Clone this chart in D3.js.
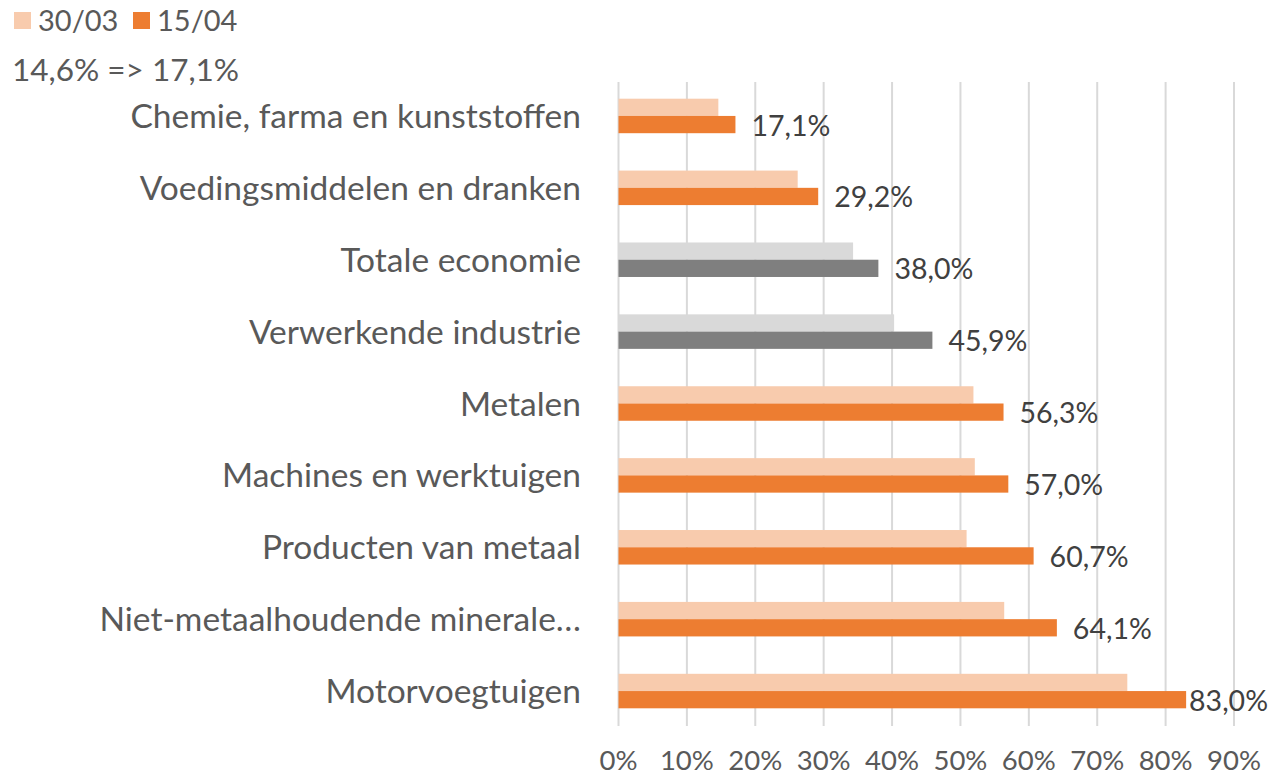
<!DOCTYPE html>
<html>
<head>
<meta charset="utf-8">
<script src="https://cdn.jsdelivr.net/npm/d3@7"></script>
<style>
  body { margin: 0; background: #fff; }
  text { font-family: Lato, "Open Sans", sans-serif; }
</style>
</head>
<body>
<svg id="chart" width="1270" height="778"></svg>
<script>
var categories = [
    "Chemie, farma en kunststoffen",
    "Voedingsmiddelen en dranken",
    "Totale economie",
    "Verwerkende industrie",
    "Metalen",
    "Machines en werktuigen",
    "Producten van metaal",
    "Niet-metaalhoudende minerale\u2026",
    "Motorvoegtuigen"
];
var series1 = [14.6, 26.2, 34.3, 40.3, 51.9, 52.1, 50.9, 56.4, 74.4];   // 30/03
var series2 = [17.1, 29.2, 38.0, 45.9, 56.3, 57.0, 60.7, 64.1, 83.0];   // 15/04
var greyCats = ["Totale economie", "Verwerkende industrie"];
var ticks = [0, 10, 20, 30, 40, 50, 60, 70, 80, 90];
var legendNames = ["30/03", "15/04"];
var subtitle = "14,6% => 17,1%";

var lightOrange = "#F8CBAD", darkOrange = "#ED7D31",
    lightGrey = "#D9D9D9", darkGrey = "#7F7F7F",
    textColor = "#595959", labelColor = "#404040";

var svg = d3.select("#chart");

var x = d3.scaleLinear().domain([0, 90]).range([618.5, 1234]);
var y = d3.scaleBand().domain(categories).range([80, 727]).paddingInner(0.52).paddingOuter(0.26);
var inner = d3.scaleBand().domain([0, 1]).range([0, y.bandwidth()]);

// gridlines
svg.append("g").selectAll("line").data(ticks).enter().append("line")
    .attr("x1", function(d) { return x(d); })
    .attr("x2", function(d) { return x(d); })
    .attr("y1", 82).attr("y2", 726)
    .attr("stroke", "#D9D9D9").attr("stroke-width", 2);

// tick labels
svg.append("g").selectAll("text").data(ticks).enter().append("text")
    .attr("x", function(d) { return x(d); })
    .attr("y", 770)
    .attr("text-anchor", "middle")
    .attr("font-size", 27.5)
    .attr("fill", textColor)
    .text(function(d) { return d + "%"; });

var rows = categories.map(function(c, i) {
    return {cat: c, v1: series1[i], v2: series2[i], grey: greyCats.indexOf(c) >= 0};
});

var g = svg.append("g").selectAll("g").data(rows).enter().append("g")
    .attr("transform", function(d) { return "translate(0," + y(d.cat) + ")"; });

g.append("rect")
    .attr("x", x(0)).attr("y", inner(0))
    .attr("width", function(d) { return x(d.v1) - x(0); })
    .attr("height", inner.bandwidth())
    .attr("fill", function(d) { return d.grey ? lightGrey : lightOrange; });

g.append("rect")
    .attr("x", x(0)).attr("y", inner(1))
    .attr("width", function(d) { return x(d.v2) - x(0); })
    .attr("height", inner.bandwidth())
    .attr("fill", function(d) { return d.grey ? darkGrey : darkOrange; });

// category labels
g.append("text")
    .attr("x", 581)
    .attr("y", y.bandwidth() / 2 + 12)
    .attr("text-anchor", "end")
    .attr("font-size", 33.5)
    .attr("fill", textColor)
    .text(function(d) { return d.cat; });

// data labels
g.append("text")
    .attr("y", inner(1) + inner.bandwidth() / 2 + 11)
    .attr("font-size", 28.5)
    .attr("fill", labelColor)
    .text(function(d) { return d.v2.toFixed(1).replace(".", ",") + "%"; })
    .attr("x", function(d) {
        var w = this.getComputedTextLength();
        return Math.min(x(d.v2) + 16, 1268 - w);
    });

// legend
var legend = svg.append("g");
var lx = [14, 133];
legendNames.forEach(function(n, i) {
    legend.append("rect").attr("x", lx[i]).attr("y", 12).attr("width", 17).attr("height", 17)
        .attr("fill", i === 0 ? lightOrange : darkOrange);
    legend.append("text").attr("x", lx[i] + 24).attr("y", 31)
        .attr("font-size", 29).attr("fill", textColor).text(n);
});
legend.append("text").attr("x", 12).attr("y", 81)
    .attr("font-size", 31.5).attr("fill", textColor).text(subtitle);
</script>
</body>
</html>
